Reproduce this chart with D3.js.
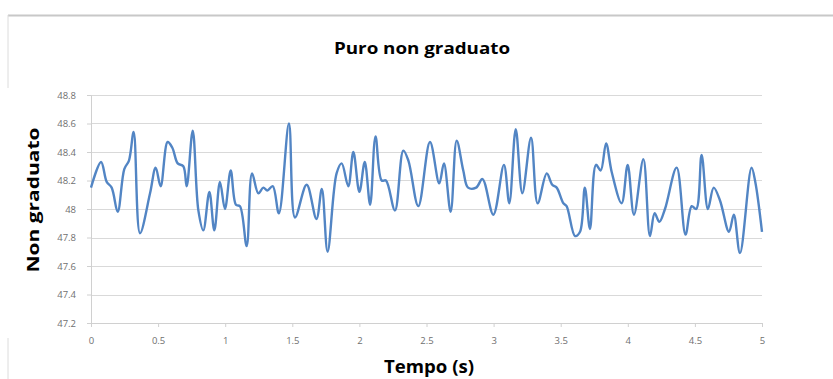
<!DOCTYPE html>
<html><head><meta charset="utf-8">
<script src="https://cdn.jsdelivr.net/npm/d3@7"></script>
<style>html,body{margin:0;padding:0;background:#fff;}svg{display:block;}</style>
</head><body>
<svg id="c" width="833" height="379"></svg>
<script>
const title = "Puro non graduato";
const xTitle = "Tempo (s)";
const yTitle = "Non graduato";
const xTicks = [0, 0.5, 1, 1.5, 2, 2.5, 3, 3.5, 4, 4.5, 5];
const yTicks = [47.2, 47.4, 47.6, 47.8, 48, 48.2, 48.4, 48.6, 48.8];
const time = [0, 0.075, 0.117, 0.154, 0.199, 0.248, 0.283, 0.318, 0.365, 0.44,
  0.482, 0.519, 0.571, 0.606, 0.646, 0.688, 0.713, 0.758, 0.80, 0.837,
  0.882, 0.919, 0.961, 0.998, 1.041, 1.08, 1.11, 1.16, 1.20, 1.247,
  1.284, 1.314, 1.354, 1.40, 1.475, 1.52, 1.607, 1.68, 1.72, 1.763,
  1.83, 1.868, 1.917, 1.955, 2.00, 2.04, 2.08, 2.12, 2.166, 2.198,
  2.265, 2.327, 2.365, 2.439, 2.526, 2.595, 2.63, 2.68, 2.725, 2.774,
  2.81, 2.87, 2.917, 2.998, 3.077, 3.117, 3.165, 3.214, 3.279, 3.328,
  3.396, 3.437, 3.47, 3.52, 3.544, 3.607, 3.644, 3.68, 3.718, 3.763,
  3.798, 3.838, 3.88, 3.954, 3.999, 4.046, 4.116, 4.165, 4.20, 4.235,
  4.277, 4.364, 4.43, 4.476, 4.51, 4.55, 4.597, 4.64, 4.687, 4.754,
  4.79, 4.836, 4.922, 4.95, 5.0];
const values = [48.15, 48.33, 48.19, 48.15, 47.98, 48.28, 48.34, 48.54, 47.83, 48.11,
  48.29, 48.16, 48.47, 48.43, 48.32, 48.30, 48.16, 48.55, 47.99, 47.85,
  48.12, 47.85, 48.19, 48.00, 48.27, 48.03, 48.02, 47.74, 48.25, 48.11,
  48.15, 48.13, 48.16, 47.97, 48.60, 47.94, 48.17, 47.93, 48.14, 47.70,
  48.25, 48.32, 48.16, 48.40, 48.12, 48.33, 48.03, 48.51, 48.20, 48.20,
  47.99, 48.41, 48.34, 48.02, 48.47, 48.18, 48.32, 47.98, 48.48, 48.27,
  48.15, 48.15, 48.21, 47.96, 48.31, 48.04, 48.56, 48.11, 48.50, 48.04,
  48.25, 48.17, 48.15, 48.04, 48.02, 47.81, 47.84, 48.15, 47.86, 48.31,
  48.27, 48.46, 48.26, 48.04, 48.31, 47.96, 48.35, 47.81, 47.97, 47.91,
  48.00, 48.29, 47.82, 48.02, 48.00, 48.38, 48.00, 48.15, 48.06, 47.84,
  47.96, 47.69, 48.29, 48.19, 47.84];

const svg = d3.select("#c");
const W = 833, H = 379;
const x = d3.scaleLinear().domain([0, 5]).range([91, 762]);
const y = d3.scaleLinear().domain([47.2, 48.8]).range([323, 95]);

// chart frame (light grey)
svg.append("line").attr("x1", 8).attr("x2", W).attr("y1", 15.5).attr("y2", 15.5)
  .attr("stroke", "#c8c8c8").attr("stroke-width", 2);
svg.append("line").attr("x1", 8).attr("x2", 8).attr("y1", 15).attr("y2", 88)
  .attr("stroke", "#dcdcdc").attr("stroke-width", 1);
svg.append("line").attr("x1", 8).attr("x2", 8).attr("y1", 338).attr("y2", H)
  .attr("stroke", "#dcdcdc").attr("stroke-width", 1);

// gridlines
svg.append("g").selectAll("line").data(yTicks.slice(1)).join("line")
  .attr("x1", x(0)).attr("x2", x(5))
  .attr("y1", d => Math.round(y(d)) + 0.5).attr("y2", d => Math.round(y(d)) + 0.5)
  .attr("stroke", "#d9d9d9").attr("stroke-width", 1);

const fmt = d => String(+d.toFixed(1));

// y axis
const yAx = svg.append("g").attr("transform", `translate(${x(0)},0)`)
  .call(d3.axisLeft(y).tickValues(yTicks).tickFormat(fmt).tickSize(4).tickPadding(11));
yAx.select(".domain").attr("stroke", "#d0d0d0");
yAx.selectAll(".tick line").attr("stroke", "#d0d0d0");
yAx.selectAll("text").attr("fill", "#707070").style("font-family", "Open Sans, sans-serif").style("font-size", "9.5px");

// x axis
const xAx = svg.append("g").attr("transform", `translate(0,${y(47.2)})`)
  .call(d3.axisBottom(x).tickValues(xTicks).tickFormat(fmt).tickSize(4).tickPadding(10));
xAx.select(".domain").attr("stroke", "#d0d0d0");
xAx.selectAll(".tick line").attr("stroke", "#d0d0d0");
xAx.selectAll("text").attr("fill", "#707070").style("font-family", "Open Sans, sans-serif").style("font-size", "9.5px");

// series
const pts = time.map((t, i) => [t, values[i]]);
const line = d3.line().x(d => x(d[0])).y(d => y(d[1])).curve(d3.curveCatmullRom.alpha(0.5));
svg.append("path").attr("d", line(pts)).attr("fill", "none")
  .attr("stroke", "#5285c4").attr("stroke-width", 2.4).attr("stroke-linejoin", "round");

// titles
svg.append("text").attr("x", 422).attr("y", 54).attr("text-anchor", "middle")
  .style("font-family", "Open Sans, sans-serif").style("font-weight", "bold").style("font-size", "16px")
  .attr("textLength", 176).attr("lengthAdjust", "spacingAndGlyphs")
  .attr("fill", "#000").text(title);
svg.append("text").attr("x", 429).attr("y", 373).attr("text-anchor", "middle")
  .style("font-family", "Open Sans, sans-serif").style("font-weight", "bold").style("font-size", "17px")
  .attr("textLength", 90).attr("lengthAdjust", "spacingAndGlyphs")
  .attr("fill", "#000").text(xTitle);
svg.append("text").attr("transform", "translate(39,200) rotate(-90)").attr("text-anchor", "middle")
  .style("font-family", "Open Sans, sans-serif").style("font-weight", "bold").style("font-size", "16.5px")
  .attr("textLength", 145).attr("lengthAdjust", "spacingAndGlyphs")
  .attr("fill", "#000").text(yTitle);
</script>
</body></html>
